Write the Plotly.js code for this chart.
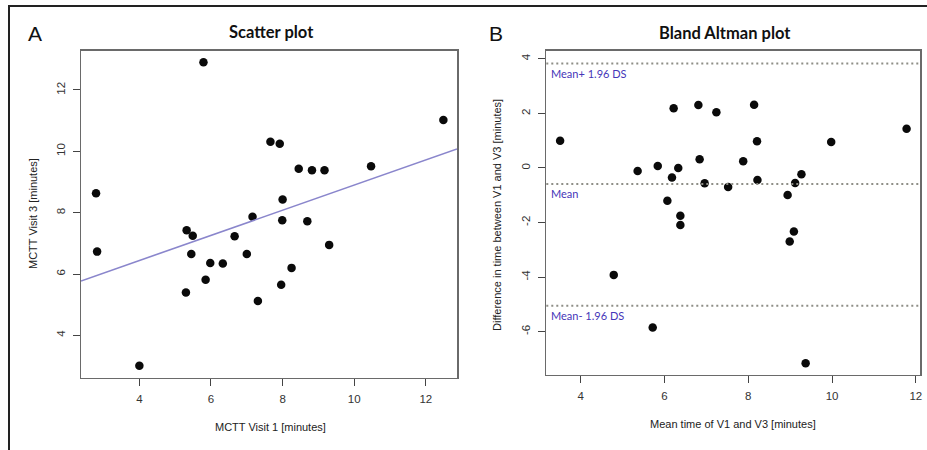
<!DOCTYPE html>
<html>
<head>
<meta charset="utf-8">
<script src="https://cdn.plot.ly/plotly-3.0.1.min.js"></script>
<style>
  html, body { margin: 0; padding: 0; background: #fff; }
  #chart { width: 927px; height: 450px; }
</style>
</head>
<body>
<div id="chart"></div>
<script>
// ---- Panel A: scatter plot data ----
var visit1 = [2.79, 2.82, 4.00, 5.79, 5.32, 5.49, 5.45, 5.30, 5.85, 5.98, 6.33, 6.66, 7.00, 7.16,
              7.31, 7.66, 7.92, 8.00, 7.99, 7.96, 8.25, 8.45, 8.82, 8.69, 9.17, 9.30, 10.47, 12.49];
var visit3 = [8.63, 6.73, 3.01, 12.90, 7.43, 7.25, 6.65, 5.40, 5.81, 6.36, 6.34, 7.23, 6.65, 7.87,
              5.12, 10.31, 10.25, 8.43, 7.75, 5.65, 6.20, 9.43, 9.38, 7.72, 9.38, 6.95, 9.51, 11.02];
var regIntercept = [4.80];
var regSlope = [0.41];

// ---- Panel B: Bland-Altman data ----
var baMean = [3.51, 4.79, 5.36, 5.84, 5.72, 6.22, 6.18, 6.07, 6.33, 6.38, 6.38, 6.81, 6.84, 6.96,
              7.24, 7.52, 7.88, 8.14, 8.21, 8.22, 8.94, 9.12, 9.27, 9.09, 8.99, 9.37, 9.98, 11.78];
var baDiff = [1.00, -3.92, -0.11, 0.07, -5.85, 2.19, -0.35, -1.20, 0.00, -1.75, -2.09, 2.31, 0.32, -0.56,
              2.04, -0.70, 0.25, 2.32, 0.98, -0.44, -0.99, -0.55, -0.23, -2.33, -2.70, -7.16, 0.95, 1.44];
var limitValues = [3.83, -0.59, -5.05];
var limitLabels = ["Mean+ 1.96 DS", "Mean", "Mean- 1.96 DS"];

// ---- tick labels ----
var ticksAx = [4, 6, 8, 10, 12];
var ticksAy = [4, 6, 8, 10, 12];
var ticksBx = [4, 6, 8, 10, 12];
var ticksBy = [-6, -4, -2, 0, 2, 4];

var xRangeA = [2.37, 12.87], yRangeA = [2.62, 13.28];
var xRangeB = [3.18, 12.10], yRangeB = [-7.58, 4.30];

var tickFont = {family: "Liberation Sans, Arial, sans-serif", size: 11.5, color: "#333"};
function axisBase(extra) {
  var a = {
    showline: true, mirror: true, linecolor: "#6a6a6a", linewidth: 1.5,
    showgrid: false, zeroline: false, ticks: "outside", ticklen: 7,
    tickcolor: "#444", tickwidth: 1, tickfont: tickFont, fixedrange: true,
    ticklabelstandoff: 3
  };
  for (var k in extra) a[k] = extra[k];
  return a;
}

var markerStyle = {color: "#0a0a0a", size: 8.5};

var traces = [
  {x: visit1, y: visit3, type: "scatter", mode: "markers", marker: markerStyle,
   xaxis: "x", yaxis: "y", hoverinfo: "x+y", showlegend: false},
  {x: baMean, y: baDiff, type: "scatter", mode: "markers", marker: markerStyle,
   xaxis: "x2", yaxis: "y2", hoverinfo: "x+y", showlegend: false}
];

var shapes = [
  // outer border (top & left)
  {type: "line", xref: "paper", yref: "paper", x0: 8/927, x1: 1, y0: 1 - 6/450, y1: 1 - 6/450,
   line: {color: "#222", width: 2}},
  {type: "line", xref: "paper", yref: "paper", x0: 9/927, x1: 9/927, y0: 1 - 5/450, y1: 0,
   line: {color: "#222", width: 2}},
  // regression line
  {type: "line", xref: "x", yref: "y",
   x0: xRangeA[0], x1: xRangeA[1],
   y0: regIntercept[0] + regSlope[0] * xRangeA[0], y1: regIntercept[0] + regSlope[0] * xRangeA[1],
   line: {color: "#8a86cc", width: 1.6}}
];
var annotations = [];
limitValues.forEach(function (v, i) {
  shapes.push({type: "line", xref: "x2 domain", yref: "y2", x0: 0, x1: 1, y0: v, y1: v,
               line: {color: "#8e8e86", width: 2, dash: "2px,3px"}});
  annotations.push({xref: "x2 domain", yref: "y2", x: 0, y: v, xanchor: "left", yanchor: "middle",
                    xshift: 3, yshift: -9.5, showarrow: false, text: limitLabels[i],
                    font: {family: "Lato, Open Sans, sans-serif", size: 11, color: "#4536b8"}});
});

function paperAnn(text, px, py, font, angle) {
  return {xref: "paper", yref: "paper", x: px / 927, y: 1 - py / 450, xanchor: "center", yanchor: "middle",
          showarrow: false, text: text, font: font, textangle: angle || 0};
}
var titleFont = {family: "Lato, Open Sans, sans-serif", size: 16.5, color: "#111", weight: "bold"};
var axTitleFont = {family: "Liberation Sans, Arial, sans-serif", size: 11, color: "#222"};
var letterFont = {family: "Liberation Sans, Arial, sans-serif", size: 21, color: "#111"};
annotations.push(paperAnn("A", 35, 33, letterFont));
annotations.push(paperAnn("B", 496, 33, letterFont));
annotations.push(paperAnn("<b>Scatter plot</b>", 271, 32, titleFont));
annotations.push(paperAnn("<b>Bland Altman plot</b>", 725, 33, titleFont));
annotations.push(paperAnn("MCTT Visit 1 [minutes]", 270, 427, axTitleFont));
annotations.push(paperAnn("MCTT Visit 3 [minutes]", 33, 214, axTitleFont, -90));
annotations.push(paperAnn("Mean time of V1 and V3 [minutes]", 733, 424, axTitleFont));
annotations.push(paperAnn("Difference in time between V1 and V3 [minutes]", 497, 215, axTitleFont, -90));

var layout = {
  width: 927, height: 450,
  margin: {l: 0, r: 0, t: 0, b: 0, autoexpand: false},
  paper_bgcolor: "#fff", plot_bgcolor: "#fff",
  showlegend: false,
  xaxis: axisBase({domain: [81/927, 457/927], range: xRangeA, anchor: "y",
                   tickvals: ticksAx, ticktext: ticksAx.map(String)}),
  yaxis: axisBase({domain: [1 - 377.7/450, 1 - 50.7/450], range: yRangeA, anchor: "x",
                   tickvals: ticksAy, ticktext: ticksAy.map(String), tickangle: -90}),
  xaxis2: axisBase({domain: [546.3/927, 920/927], range: xRangeB, anchor: "y2",
                    tickvals: ticksBx, ticktext: ticksBx.map(String)}),
  yaxis2: axisBase({domain: [1 - 374.7/450, 1 - 50.7/450], range: yRangeB, anchor: "x2",
                    tickvals: ticksBy, ticktext: ticksBy.map(String), tickangle: -90}),
  shapes: shapes,
  annotations: annotations
};

Plotly.newPlot("chart", traces, layout, {displayModeBar: false, staticPlot: true});
</script>
</body>
</html>
